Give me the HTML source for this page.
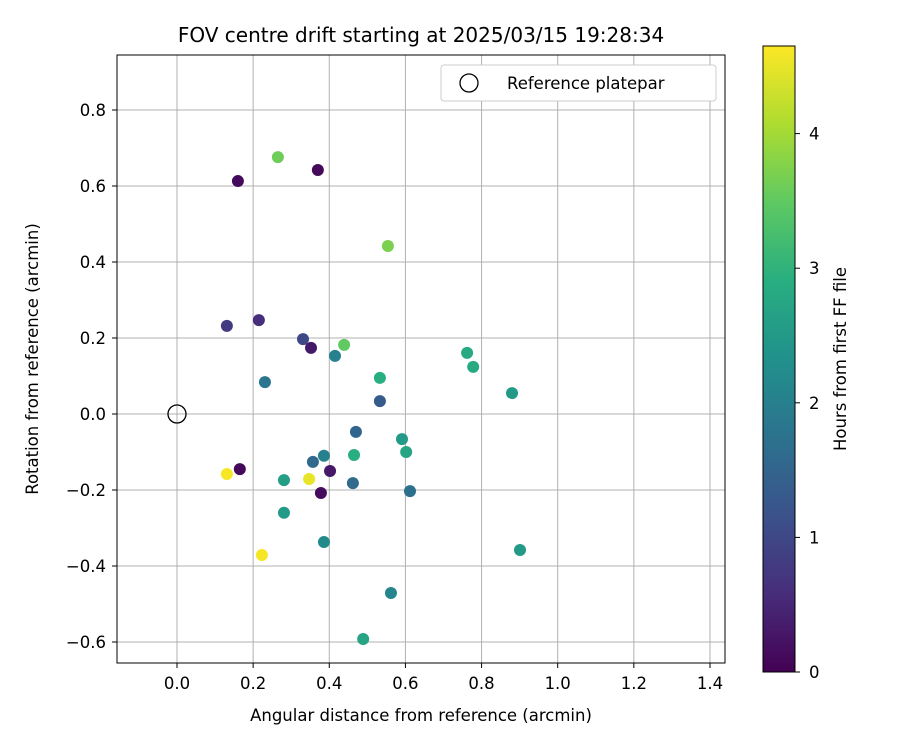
<!DOCTYPE html>
<html><head><meta charset="utf-8"><style>
body{margin:0;background:#fff}
svg text{font-family:"DejaVu Sans","Liberation Sans",sans-serif;fill:#000}
</style></head><body>
<svg id="c" width="900" height="750" xmlns="http://www.w3.org/2000/svg">
<defs><linearGradient id="vir" x1="0" y1="1" x2="0" y2="0">
<stop offset="0" stop-color="#440154"/><stop offset="0.125" stop-color="#472d7b"/><stop offset="0.25" stop-color="#3b528b"/><stop offset="0.375" stop-color="#2c728e"/><stop offset="0.5" stop-color="#21918c"/><stop offset="0.625" stop-color="#28ae80"/><stop offset="0.75" stop-color="#5ec962"/><stop offset="0.875" stop-color="#addc30"/><stop offset="1" stop-color="#fde725"/></linearGradient></defs>
<text x="421" y="42" font-size="20" text-anchor="middle">FOV centre drift starting at 2025/03/15 19:28:34</text>
<g id="grid"></g><g id="ticks"></g><g id="pts"></g>
<rect x="117" y="55" width="608" height="608" fill="none" stroke="#000" stroke-width="1"/>
<text x="421" y="721" font-size="16.5" text-anchor="middle">Angular distance from reference (arcmin)</text>
<text transform="translate(38,359) rotate(-90)" font-size="16.5" text-anchor="middle">Rotation from reference (arcmin)</text>
<g>
<rect x="441" y="65" width="275" height="36" rx="3" fill="#fff" stroke="#ccc"/>
<circle cx="469" cy="83" r="9" fill="none" stroke="#000" stroke-width="1.3"/>
<text x="507" y="89" font-size="16.5">Reference platepar</text></g>
<rect x="763" y="46" width="32" height="626" fill="url(#vir)" stroke="#000"/>
<g id="cb"></g>
<text transform="translate(846,359) rotate(-90)" font-size="16.5" text-anchor="middle">Hours from first FF file</text>
</svg>
<script>
const xs=[0.16,0.37,0.265,0.554,0.131,0.215,0.331,0.352,0.415,0.439,0.231,0.762,0.778,0.88,0.533,0.533,0.47,0.591,0.602,0.465,0.386,0.357,0.165,0.402,0.131,0.347,0.281,0.462,0.612,0.378,0.281,0.386,0.223,0.901,0.562,0.489];
const ys=[0.613,0.642,0.676,0.442,0.232,0.247,0.197,0.174,0.153,0.182,0.084,0.161,0.124,0.055,0.095,0.034,-0.047,-0.066,-0.1,-0.108,-0.11,-0.126,-0.145,-0.15,-0.158,-0.171,-0.174,-0.182,-0.203,-0.208,-0.26,-0.337,-0.371,-0.358,-0.471,-0.592];
const hours=[0.1,0.1,3.6,3.7,0.8,0.6,1.0,0.3,2.0,3.5,1.8,2.8,2.8,2.5,2.9,1.3,1.5,2.5,2.7,2.9,2.0,1.6,0.1,0.3,4.6,4.5,2.6,1.6,1.7,0.15,2.5,2.2,4.6,2.5,2.1,2.7];
const xTicks=[0,0.2,0.4,0.6,0.8,1.0,1.2,1.4];
const yTicks=[-0.6,-0.4,-0.2,0,0.2,0.4,0.6,0.8];
const cTicks=[0,1,2,3,4];
const X=v=>177+v*380.7, Y=v=>414-v*380, C=h=>672-h*134.6, HMAX=4.65;
const stops=["#440154","#472d7b","#3b528b","#2c728e","#21918c","#28ae80","#5ec962","#addc30","#fde725"];
function vir(h){let t=Math.max(0,Math.min(1,h/HMAX))*8,i=Math.min(7,Math.floor(t)),f=t-i;
const a=stops[i],b=stops[i+1],p=(s,k)=>parseInt(s.substr(k,2),16);
let r=[1,3,5].map(k=>Math.round(p(a,k)+(p(b,k)-p(a,k))*f));return `rgb(${r})`;}
const NS="http://www.w3.org/2000/svg";
function mk(par,tag,at){const e=document.createElementNS(NS,tag);for(const k in at)e.setAttribute(k,at[k]);document.getElementById(par).appendChild(e);return e;}
xTicks.forEach(v=>{const x=X(v);
const g=mk('grid','line',{x1:x,x2:x,y1:55,y2:663,stroke:'#b0b0b0','stroke-width':1});


mk('ticks','line',{x1:x,x2:x,y1:663,y2:668,stroke:'#000'});
const t=mk('ticks','text',{x:x,y:689,'font-size':16.5,'text-anchor':'middle'});t.textContent=v.toFixed(1);

});
yTicks.forEach(v=>{const y=Y(v);
const g=mk('grid','line',{x1:117,x2:725,y1:y,y2:y,stroke:'#b0b0b0','stroke-width':1});


mk('ticks','line',{x1:112,x2:117,y1:y,y2:y,stroke:'#000'});
const t=mk('ticks','text',{x:106,y:y+6,'font-size':16.5,'text-anchor':'end'});t.textContent=(v<0?'\u2212':'')+Math.abs(v).toFixed(1);

});
cTicks.forEach(v=>{const y=C(v);
mk('cb','line',{x1:795,x2:800,y1:y,y2:y,stroke:'#000'});
const t=mk('cb','text',{x:809,y:y+6,'font-size':16.5});t.textContent=v;

});
const r=mk('pts','circle',{cx:X(0),cy:Y(0),r:9,fill:'none',stroke:'#000','stroke-width':1.3});


xs.forEach((v,i)=>{const c=mk('pts','circle',{cx:X(v),cy:Y(ys[i]),r:6,fill:vir(hours[i])});

});
</script>
</body></html>
